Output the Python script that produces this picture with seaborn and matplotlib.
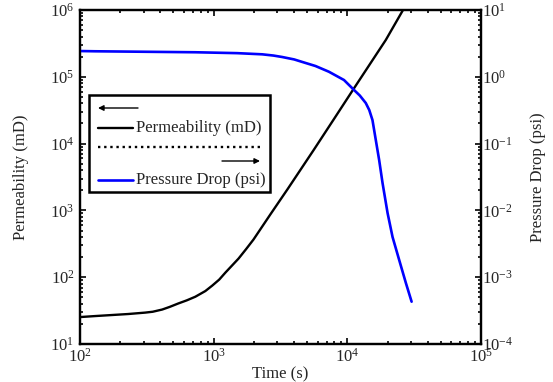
import numpy as np
import pandas as pd
import matplotlib
matplotlib.use("Agg")
import matplotlib.pyplot as plt
import seaborn as sns
from matplotlib.patches import Rectangle
from matplotlib.lines import Line2D
from matplotlib.ticker import LogLocator

# values
perm_time = [100, 130, 229, 307, 350, 412, 470, 543, 629, 729, 866, 977, 1100,
             1223, 1535, 1750, 1985, 2668, 3578, 5600, 7940, 11130, 19400,
             26100, 32700]
perm_md = [25.3, 26.2, 28.1, 29.5, 30.4, 32.8, 36, 40.4, 45, 51, 62, 75, 92,
           117, 190, 264, 366, 883, 2090, 8020, 23300, 65700, 356000, 1000000,
           2300000]

dp_time = [100, 130, 729, 1500, 2308, 2800, 3248, 4000, 4593, 5780, 7283, 9440,
           11230, 12390, 13740, 14590, 15420, 16330, 17300, 18340, 20000, 21790,
           24430, 27420, 30260]
dp_psi = [2.43, 2.41, 2.33, 2.26, 2.17, 2.08, 1.98, 1.82, 1.67, 1.45, 1.19,
          0.895, 0.634, 0.525, 0.405, 0.318, 0.225, 0.113, 0.0568, 0.0257,
          0.00914, 0.0040, 0.00181, 0.000818, 0.00043]

perm_df = pd.DataFrame({"time": perm_time, "perm": perm_md})
dp_df = pd.DataFrame({"time": dp_time, "dp": dp_psi})

sns.set_style("ticks")
plt.rcParams["font.family"] = ["Liberation Serif", "DejaVu Serif"]
plt.rcParams["mathtext.fontset"] = "stix"
plt.rcParams["axes.unicode_minus"] = False
plt.rcParams["font.size"] = 12

fig = plt.figure(figsize=(5.53, 3.82), dpi=100)
ax = fig.add_axes([80 / 553, 1 - 344 / 382, 401 / 553, 334 / 382])
ax2 = ax.twinx()

sns.lineplot(data=perm_df, x="time", y="perm", ax=ax, color="black",
             linewidth=1.7, estimator=None, sort=False)
sns.lineplot(data=dp_df, x="time", y="dp", ax=ax2, color="#0000ff",
             linewidth=1.9, estimator=None, sort=False)

ax.set_xscale("log")
ax.set_yscale("log")
ax2.set_yscale("log")
ax.set_xlim(1e2, 1e5)
ax.set_ylim(1e1, 1e6)
ax2.set_ylim(1e-4, 1e1)

ax.set_xlabel("Time (s)", fontsize=12, labelpad=0)
ax.set_ylabel("Permeability (mD)", fontsize=12, labelpad=15)
ax2.set_ylabel("Pressure Drop (psi)", fontsize=12, labelpad=12)

for a in (ax, ax2):
    for sp in a.spines.values():
        sp.set_linewidth(1.6)
        sp.set_color("black")
    a.yaxis.set_minor_locator(LogLocator(base=10, subs=np.arange(2, 10), numticks=20))

ax.xaxis.set_minor_locator(LogLocator(base=10, subs=np.arange(2, 10), numticks=20))
ax.tick_params(axis="x", which="both", direction="in", top=True, labelsize=12, pad=3)
ax.tick_params(axis="y", which="both", direction="in", right=False, labelsize=12, pad=4)
ax2.tick_params(axis="y", which="both", direction="in", labelsize=12, pad=1)
for a in (ax, ax2):
    a.tick_params(which="major", length=4, width=1.4)
    a.tick_params(which="minor", length=2.5, width=1.4)

# hand-made legend in MATLAB style
def fx(px):
    return (px - 80) / 401

def fy(py):
    return (344 - py) / 334

ax2.add_patch(Rectangle((fx(89), fy(192)), fx(270) - fx(89), fy(95) - fy(192),
                        transform=ax2.transAxes, facecolor="white",
                        edgecolor="black", linewidth=1.8, zorder=5))
ax2.annotate("", xy=(fx(98), fy(108)), xytext=(fx(138), fy(108)),
             xycoords="axes fraction", textcoords="axes fraction",
             arrowprops=dict(arrowstyle="-|>", color="black", lw=1.0,
                             mutation_scale=8, shrinkA=0, shrinkB=0), zorder=6)
ax2.add_line(Line2D([fx(98), fx(133)], [fy(128), fy(128)], transform=ax2.transAxes,
                    color="black", linewidth=1.7, zorder=6))
ax2.text(fx(136), fy(128), "Permeability (mD)", transform=ax2.transAxes,
         va="center", ha="left", fontsize=12, zorder=6)
ax2.add_line(Line2D([fx(98), fx(262)], [fy(147), fy(147)], transform=ax2.transAxes,
                    color="black", linewidth=1.7, linestyle=(0, (1, 1.6)), zorder=6))
ax2.annotate("", xy=(fx(260), fy(161)), xytext=(fx(222), fy(161)),
             xycoords="axes fraction", textcoords="axes fraction",
             arrowprops=dict(arrowstyle="-|>", color="black", lw=1.0,
                             mutation_scale=8, shrinkA=0, shrinkB=0), zorder=6)
ax2.add_line(Line2D([fx(98), fx(133)], [fy(180), fy(180)], transform=ax2.transAxes,
                    color="#0000ff", linewidth=1.9, zorder=6))
ax2.text(fx(136), fy(180), "Pressure Drop (psi)", transform=ax2.transAxes,
         va="center", ha="left", fontsize=12, zorder=6)

fig.savefig("out.png", dpi=100)
